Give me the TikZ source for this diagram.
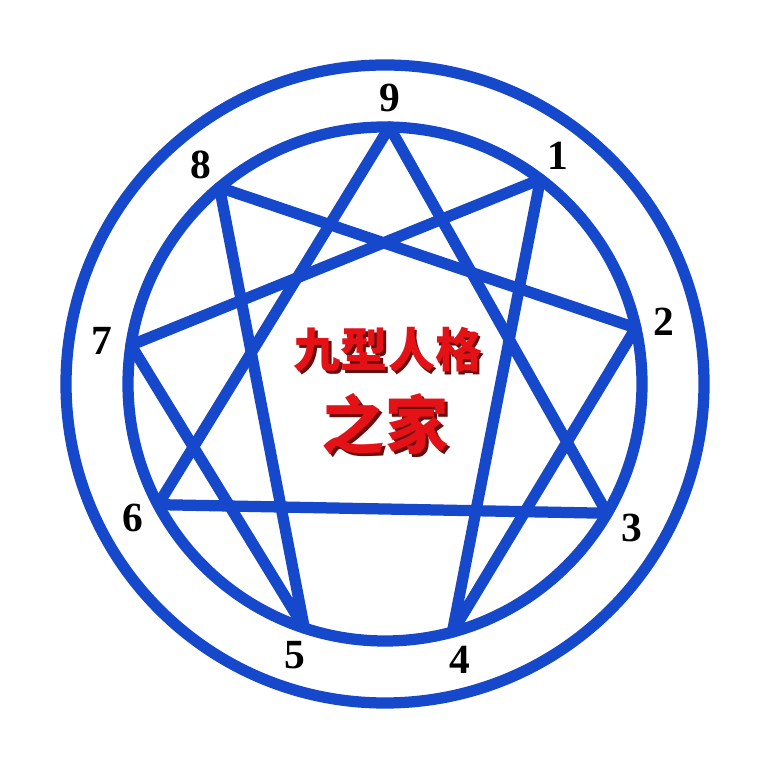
\documentclass[tikz,border=0pt]{standalone}
\usepackage{fontspec}
\usepackage{tkz-euclide}
\setmainfont{Liberation Serif}
\newfontfamily\cjk{Noto Sans CJK SC}
\definecolor{ennblue}{RGB}{22,72,204}
\definecolor{ennred}{RGB}{228,18,22}
\definecolor{ennshadow}{RGB}{105,12,12}

\begin{document}
\begin{tikzpicture}[
        ring/.style={color=ennblue,line width=3.2pt},
        star/.style={color=ennblue,line width=3.2pt,line join=round},
        num/.style={font=\fontsize{11.8}{12}\selectfont\bfseries},
        title/.style={font=\cjk\bfseries\fontsize{#1}{#1}\selectfont,text=ennred},
        backtext/.style={text=ennshadow}]
        % 初始化
        \tkzInit[xmin=0,xmax=7.77,ymin=0,ymax=7.77]
        \fill[white] (0,0) rectangle (7.77,7.77);
        \useasboundingbox (0,0) rectangle (7.77,7.77);
        % 定义圆心与半径
        \tkzDefPoints{3.85/3.93/O}
        \tkzDefShiftPoint[O](90:2.57){A}
        \tkzDefShiftPoint[O](90:3.19){B}
        % 绘制内外两个圆
        \tkzDrawCircles[ring](O,A O,B)
        % 定义九个点及其编号
        \foreach \n/\a in {9/89,1/52.8,2/12.6,3/-30.2,4/-74.8,5/-108.3,6/-152,7/171.3,8/130.1}{
          \tkzDefShiftPoint[O](\a:2.57){P\n}
          \tkzDefShiftPoint[O](\a:2.86){L\n}
          \node[num] (n\n) at (L\n) {\n};
        }
        % 绘制三角形 9-3-6
        \tkzDrawPolygon[star](P9,P3,P6)
        % 绘制六边形 1-4-2-8-5-7
        \tkzDrawPolygon[star](P1,P4,P2,P8,P5,P7)
        % 中心文字
        \tkzDefPoints{3.88/4.27/T, 3.85/3.53/U}
        \node[title=13.4,backtext] (ts) at ([shift={(0.025,-0.025)}]T) {九型人格};
        \node[title=13.4] (t) at (T) {九型人格};
        \node[title=18,backtext] (us) at ([shift={(0.03,-0.03)}]U) {之家};
        \node[title=18] (u) at (U) {之家};
      \end{tikzpicture}
\end{document}
